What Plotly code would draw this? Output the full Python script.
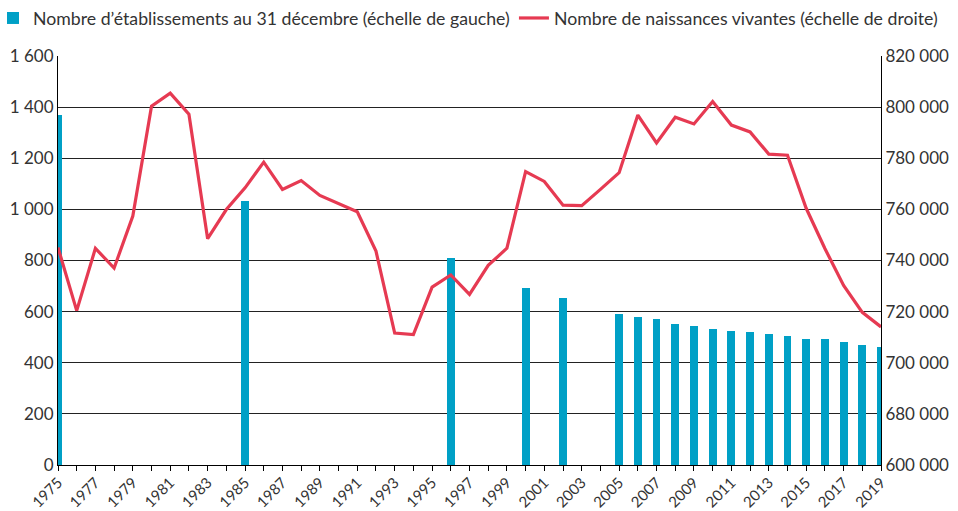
import plotly.graph_objects as go

years = list(range(1975, 2020))
births = [745065, 720395, 744744, 737062, 757354, 800376, 805483, 797223, 748525, 759939,
          768431, 778468, 767828, 771268, 765473, 762407, 759056, 743658, 711610, 710993,
          729609, 734338, 726768, 738080, 744791, 774782, 770945, 761630, 761464, 767816,
          774355, 796896, 785985, 796044, 793420, 802224, 792996, 790290, 781621, 781167,
          760421, 744697, 730242, 719737, 714029]

bar_years = [1975, 1985, 1996, 2000, 2002, 2005, 2006, 2007, 2008, 2009, 2010,
             2011, 2012, 2013, 2014, 2015, 2016, 2017, 2018, 2019]
establishments = [1369, 1034, 808, 693, 654, 591, 578, 571, 552, 545, 532,
                  525, 520, 512, 506, 493, 493, 481, 468, 462]

left_ticks = [0, 200, 400, 600, 800, 1000, 1200, 1400, 1600]
left_labels = ["0", "200", "400", "600", "800", "1 000", "1 200", "1 400", "1 600"]
right_ticks = [660000, 680000, 700000, 720000, 740000, 760000, 780000, 800000, 820000]
right_labels = ["600 000", "680 000", "700 000", "720 000", "740 000", "760 000",
                "780 000", "800 000", "820 000"]
x_labels = [str(y) if (y - 1975) % 2 == 0 else "" for y in years]

BLUE = "#00A0C6"
RED = "#E63A52"
FONT = "Lato"
TXT = "#333333"

fig = go.Figure()
fig.add_trace(go.Bar(
    x=bar_years, y=establishments, width=0.42, marker=dict(color=BLUE, line=dict(width=0)),
    name="Nombre d’établissements au 31 décembre (échelle de gauche)", yaxis="y",
    legend="legend"))
fig.add_trace(go.Scatter(
    x=years, y=births, mode="lines", line=dict(color=RED, width=3.2),
    name="Nombre de naissances vivantes (échelle de droite)", yaxis="y2",
    legend="legend2"))

legend_style = dict(orientation="h", xanchor="left", yanchor="top",
                    font=dict(size=17.7, color=TXT), bgcolor="rgba(0,0,0,0)",
                    itemwidth=30)

fig.update_layout(
    width=958, height=511,
    margin=dict(l=58, r=77, t=56, b=46, autoexpand=False),
    paper_bgcolor="white", plot_bgcolor="white",
    font=dict(family=FONT, size=15, color=TXT),
    showlegend=True,
    legend=dict(x=-0.079, y=1.137, **legend_style),
    legend2=dict(x=0.554, y=1.137, **legend_style),
    xaxis=dict(range=[1975, 2019], tickvals=years, ticktext=x_labels, tickangle=-45,
               ticks="outside", ticklen=5, tickcolor="black", showgrid=False,
               showline=True, linecolor="black", linewidth=1, zeroline=False,
               ticklabelstandoff=-3,
               automargin=False, tickfont=dict(size=15, color=TXT)),
    yaxis=dict(range=[0, 1600], tickvals=left_ticks, ticktext=left_labels,
               showgrid=True, gridcolor="#222222", gridwidth=1, zeroline=False,
               showline=True, linecolor="black", linewidth=1, ticks="",
               automargin=False, tickfont=dict(size=17, color=TXT)),
    yaxis2=dict(range=[660000, 820000], tickvals=right_ticks, ticktext=right_labels,
                overlaying="y", side="right", showgrid=False, zeroline=False,
                showline=True, linecolor="black", linewidth=1, ticks="",
                automargin=False, tickfont=dict(size=17, color=TXT)),
    bargap=0,
)

fig.write_html("out.html", config={"displayModeBar": False},
               post_script="document.body.style.margin='0';document.body.style.overflow='hidden';")
